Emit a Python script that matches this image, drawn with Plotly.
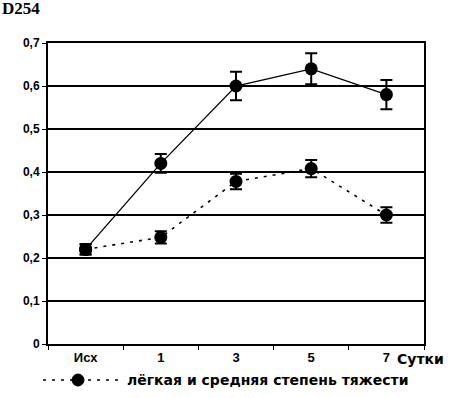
import plotly.graph_objects as go

categories = ["Исх", "1", "3", "5", "7"]
severe = [0.22, 0.42, 0.60, 0.64, 0.58]
severe_err = [0.012, 0.022, 0.033, 0.036, 0.034]
mild = [0.22, 0.248, 0.378, 0.408, 0.30]
mild_err = [0.012, 0.014, 0.018, 0.02, 0.018]
y_ticks = [0, 0.1, 0.2, 0.3, 0.4, 0.5, 0.6, 0.7]
y_labels = ["0", "0,1", "0,2", "0,3", "0,4", "0,5", "0,6", "0,7"]
legend_label = "лёгкая и средняя степень тяжести"

W, H = 453, 398
L, R, T, B = 48, 29, 43, 54
pw, ph = W - L - R, H - T - B


def px_x(x):
    return (x - L) / pw


def px_y(y):
    return (H - B - y) / ph


fig = go.Figure()
fig.add_trace(go.Scatter(
    x=categories, y=severe, mode="lines+markers",
    line=dict(color="black", width=1.3),
    marker=dict(color="black", size=13, symbol="circle"),
    error_y=dict(type="data", array=severe_err, color="black", thickness=2, width=6),
    showlegend=False))
fig.add_trace(go.Scatter(
    x=categories, y=mild, mode="lines+markers",
    line=dict(color="black", width=1.6, dash="3px,6px"),
    marker=dict(color="black", size=13, symbol="circle"),
    error_y=dict(type="data", array=mild_err, color="black", thickness=2, width=6),
    showlegend=False))

fig.update_layout(
    width=W, height=H,
    margin=dict(l=L, r=R, t=T, b=B, autoexpand=False),
    paper_bgcolor="white", plot_bgcolor="white",
    font=dict(family="Liberation Sans", color="black", size=12),
    showlegend=False,
    xaxis=dict(type="category", range=[-0.5, 4.5], showgrid=False,
               ticks="outside", tickson="boundaries", ticklen=4, tickcolor="black",
               showline=True, linecolor="black", linewidth=2, mirror=True,
               tickfont=dict(family="Liberation Sans", size=13, color="black", weight="bold")),
    yaxis=dict(range=[0, 0.7], tickvals=y_ticks, ticktext=y_labels,
               showgrid=True, gridcolor="black", gridwidth=1.5,
               ticks="outside", ticklen=4, tickcolor="black",
               showline=True, linecolor="black", linewidth=2, mirror=True,
               zeroline=False,
               tickfont=dict(family="Liberation Sans", size=12, color="black", weight="bold")),
)

# title
fig.add_annotation(text="<b>D254</b>", xref="paper", yref="paper", x=px_x(0), y=px_y(9),
                   xanchor="left", yanchor="middle", showarrow=False,
                   font=dict(family="Liberation Serif", size=17, color="black"))
# axis unit
fig.add_annotation(text="<b>Сутки</b>", xref="paper", yref="paper", x=px_x(395), y=px_y(359),
                   xanchor="left", yanchor="middle", showarrow=False,
                   font=dict(family="DejaVu Sans", size=14, color="black"))

# custom legend
ly = px_y(380)
fig.add_shape(type="line", xref="paper", yref="paper", x0=px_x(43), x1=px_x(119), y0=ly, y1=ly,
              line=dict(color="black", width=1.6, dash="3px,6px"))
fig.add_shape(type="circle", xref="paper", yref="paper", xsizemode="pixel", ysizemode="pixel",
              xanchor=px_x(78), yanchor=ly, x0=-6, x1=6, y0=-6, y1=6,
              fillcolor="black", line=dict(color="black", width=1))
fig.add_annotation(text="<b>" + legend_label + "</b>", xref="paper", yref="paper",
                   x=px_x(125), y=ly, xanchor="left", yanchor="middle", showarrow=False,
                   font=dict(family="DejaVu Sans", size=14, color="black"))

fig.write_html("out.html", config={"displayModeBar": False},
               post_script="document.body.style.margin='0';")
